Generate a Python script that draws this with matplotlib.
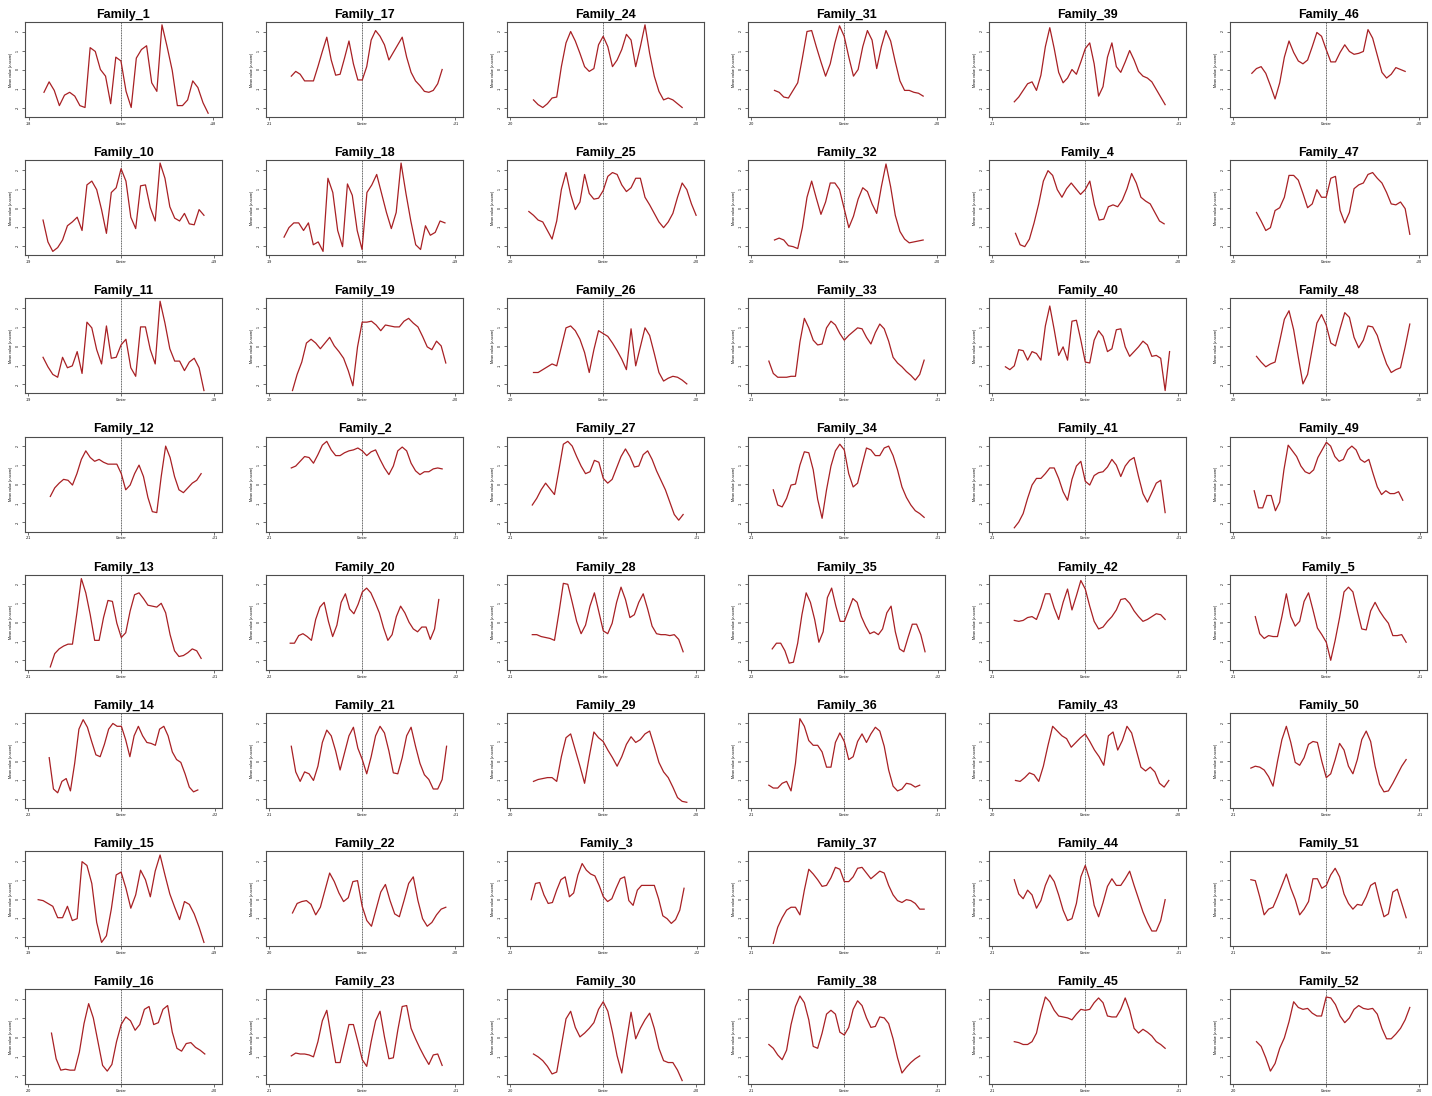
import matplotlib
matplotlib.use("Agg")
import numpy as np
import matplotlib.pyplot as plt

plt.rcParams['font.family'] = ['Liberation Sans', 'DejaVu Sans']

# mean profile per family, in % of the panel's value range, one value per position
family_1 = [26, 37, 28, 12, 23, 26, 22, 12, 10, 73, 69, 50, 43, 14, 63, 59, 27, 10, 62, 71, 75, 36, 27, 97, 74, 49, 12, 12, 18, 38, 31, 15, 4]
family_17 = [43, 48, 45, 38, 38, 38, 53, 69, 84, 60, 44, 45, 62, 80, 56, 39, 39, 53, 81, 91, 85, 76, 60, 68, 76, 84, 63, 47, 38, 33, 27, 26, 28, 35, 50]
family_24 = [18, 13, 10, 14, 20, 21, 53, 78, 90, 80, 67, 53, 48, 51, 76, 85, 74, 53, 60, 71, 87, 81, 53, 74, 97, 67, 43, 27, 18, 20, 18, 14, 10]
family_31 = [28, 26, 21, 20, 28, 36, 62, 90, 91, 74, 58, 43, 56, 78, 96, 85, 63, 43, 50, 74, 91, 81, 51, 74, 91, 80, 58, 38, 28, 28, 26, 25, 22]
family_39 = [16, 21, 28, 35, 37, 28, 44, 74, 94, 72, 47, 36, 41, 50, 45, 58, 72, 78, 56, 22, 32, 63, 78, 53, 47, 58, 70, 60, 48, 43, 41, 37, 29, 21, 13]
family_46 = [46, 51, 53, 46, 33, 19, 36, 63, 80, 68, 59, 56, 60, 74, 89, 85, 71, 58, 58, 68, 76, 69, 66, 67, 69, 92, 83, 65, 47, 41, 45, 52, 50, 48]

family_10 = [37, 14, 4, 8, 16, 31, 35, 40, 26, 74, 78, 69, 48, 23, 66, 71, 91, 78, 40, 28, 73, 74, 50, 36, 97, 81, 51, 39, 36, 44, 33, 32, 48, 42]
family_18 = [19, 29, 34, 34, 26, 34, 11, 14, 4, 81, 66, 26, 9, 75, 63, 26, 6, 66, 74, 85, 65, 45, 28, 45, 97, 65, 36, 11, 6, 31, 21, 24, 36, 34]
family_25 = [46, 42, 37, 35, 26, 17, 36, 69, 87, 64, 48, 56, 85, 65, 59, 60, 68, 83, 87, 85, 74, 67, 71, 81, 81, 61, 53, 44, 35, 29, 35, 44, 61, 76, 69, 54, 42]
family_32 = [16, 18, 16, 10, 9, 7, 29, 61, 78, 60, 43, 56, 76, 76, 69, 49, 29, 41, 59, 71, 67, 54, 44, 72, 96, 72, 42, 25, 17, 13, 14, 15, 16]
family_4 = [23, 11, 9, 17, 34, 54, 78, 89, 84, 69, 61, 70, 76, 70, 64, 69, 78, 53, 37, 38, 51, 53, 51, 58, 70, 86, 76, 61, 57, 54, 45, 36, 33]
family_47 = [45, 36, 26, 29, 47, 50, 61, 84, 84, 79, 65, 50, 54, 69, 61, 61, 81, 83, 47, 34, 45, 70, 74, 76, 85, 87, 81, 76, 66, 54, 53, 56, 49, 22]

family_11 = [38, 28, 20, 17, 38, 27, 29, 44, 21, 75, 69, 46, 31, 71, 37, 38, 51, 57, 27, 18, 70, 70, 46, 31, 97, 74, 47, 34, 34, 24, 33, 37, 27, 3]
family_19 = [3, 20, 33, 53, 57, 53, 47, 53, 59, 50, 44, 37, 24, 8, 49, 75, 75, 76, 72, 66, 72, 71, 70, 70, 76, 79, 74, 70, 60, 49, 46, 55, 50, 32]
family_26 = [22, 22, 25, 28, 31, 29, 49, 69, 71, 66, 57, 43, 22, 46, 66, 63, 60, 53, 45, 36, 25, 68, 29, 49, 69, 61, 42, 22, 13, 16, 18, 17, 14, 10]
family_33 = [34, 21, 17, 17, 17, 18, 18, 54, 79, 69, 56, 51, 52, 69, 76, 72, 63, 56, 61, 65, 69, 68, 59, 52, 64, 73, 68, 55, 38, 32, 28, 23, 19, 14, 20, 35]
family_40 = [28, 25, 29, 46, 45, 35, 44, 42, 35, 71, 92, 67, 40, 49, 35, 76, 77, 56, 33, 32, 56, 66, 60, 44, 47, 67, 68, 49, 39, 44, 49, 55, 51, 39, 40, 37, 3, 44]
family_48 = [39, 33, 28, 31, 33, 55, 78, 87, 67, 38, 10, 20, 47, 74, 83, 72, 53, 50, 68, 85, 80, 59, 48, 56, 71, 70, 61, 45, 31, 22, 25, 27, 49, 73]

family_12 = [37, 46, 51, 55, 54, 49, 61, 76, 85, 78, 74, 76, 73, 71, 71, 71, 61, 44, 49, 61, 70, 58, 36, 21, 20, 58, 90, 78, 58, 44, 41, 46, 51, 54, 61]
family_2 = [67, 69, 74, 79, 78, 72, 81, 91, 95, 86, 80, 80, 83, 85, 86, 88, 85, 80, 84, 86, 76, 67, 60, 69, 85, 89, 85, 72, 64, 60, 63, 63, 66, 67, 66]
family_27 = [28, 35, 44, 51, 45, 39, 65, 92, 95, 90, 79, 69, 61, 63, 75, 73, 56, 51, 55, 67, 79, 87, 79, 68, 69, 81, 85, 76, 64, 54, 44, 31, 18, 12, 18]
family_34 = [44, 28, 26, 35, 49, 50, 70, 84, 83, 65, 34, 14, 44, 69, 85, 92, 86, 61, 47, 51, 70, 88, 86, 80, 80, 88, 90, 80, 65, 47, 36, 28, 22, 19, 15]
family_41 = [4, 10, 19, 35, 49, 56, 56, 61, 67, 67, 56, 42, 33, 55, 69, 74, 53, 49, 59, 62, 63, 68, 76, 70, 58, 69, 75, 78, 58, 40, 31, 41, 51, 54, 20]
family_49 = [43, 25, 25, 38, 38, 22, 31, 65, 91, 85, 79, 69, 63, 61, 65, 78, 86, 94, 90, 79, 74, 76, 86, 90, 86, 76, 73, 76, 61, 47, 39, 43, 40, 40, 42, 33]

family_13 = [3, 17, 22, 25, 27, 27, 60, 96, 81, 58, 31, 31, 55, 73, 72, 49, 34, 39, 62, 79, 81, 75, 68, 67, 66, 70, 60, 37, 20, 14, 15, 18, 22, 20, 12]
family_20 = [28, 28, 36, 38, 35, 31, 53, 66, 71, 51, 35, 47, 71, 80, 64, 59, 69, 82, 86, 81, 71, 60, 44, 31, 37, 56, 67, 60, 50, 43, 40, 45, 45, 32, 43, 74]
family_28 = [37, 37, 35, 34, 33, 31, 60, 91, 90, 71, 51, 38, 47, 67, 81, 61, 41, 38, 49, 71, 87, 74, 55, 58, 71, 80, 64, 46, 38, 37, 37, 36, 37, 32, 19]
family_35 = [22, 28, 28, 20, 7, 8, 28, 58, 81, 71, 53, 29, 40, 76, 86, 67, 51, 51, 63, 75, 71, 56, 46, 38, 40, 37, 43, 60, 67, 40, 22, 19, 34, 48, 48, 37, 19]
family_42 = [52, 51, 52, 55, 56, 53, 65, 80, 80, 65, 53, 71, 85, 63, 78, 94, 85, 67, 51, 43, 45, 51, 56, 63, 74, 75, 70, 62, 56, 51, 53, 56, 59, 58, 53]
family_5 = [56, 38, 33, 36, 35, 35, 56, 80, 56, 46, 51, 72, 81, 63, 44, 37, 29, 10, 31, 55, 82, 87, 82, 62, 43, 42, 62, 71, 62, 55, 49, 36, 36, 37, 29]

family_14 = [53, 20, 16, 28, 31, 18, 47, 83, 93, 85, 70, 56, 54, 67, 83, 89, 86, 86, 72, 54, 76, 86, 76, 69, 68, 66, 83, 86, 76, 59, 51, 48, 36, 22, 17, 19]
family_21 = [65, 38, 28, 38, 36, 29, 44, 69, 82, 76, 60, 40, 58, 76, 85, 63, 51, 36, 54, 76, 86, 79, 60, 37, 36, 53, 76, 85, 65, 47, 35, 30, 20, 20, 30, 65]
family_29 = [28, 30, 31, 32, 32, 28, 54, 74, 78, 61, 44, 26, 54, 80, 74, 70, 61, 53, 44, 54, 67, 75, 69, 72, 78, 81, 65, 48, 38, 32, 22, 11, 7, 6]
family_36 = [24, 21, 21, 26, 28, 18, 47, 94, 86, 71, 66, 66, 59, 43, 43, 69, 79, 70, 51, 54, 70, 78, 69, 78, 85, 81, 65, 40, 23, 18, 20, 26, 25, 22, 24]
family_43 = [29, 28, 32, 37, 35, 28, 44, 66, 86, 81, 76, 73, 64, 69, 74, 78, 70, 61, 54, 45, 76, 80, 61, 71, 86, 79, 61, 43, 39, 43, 38, 26, 22, 29]
family_50 = [42, 44, 43, 40, 33, 23, 49, 72, 86, 69, 48, 45, 53, 67, 70, 69, 49, 32, 36, 51, 68, 61, 44, 36, 51, 72, 81, 70, 44, 25, 17, 18, 26, 35, 44, 51]

family_15 = [49, 48, 45, 42, 30, 30, 42, 27, 29, 89, 85, 66, 25, 4, 11, 39, 75, 78, 61, 40, 54, 80, 70, 52, 79, 96, 75, 55, 41, 28, 47, 44, 34, 20, 4]
family_22 = [35, 45, 47, 48, 44, 33, 41, 59, 77, 68, 56, 47, 51, 68, 69, 42, 27, 21, 39, 57, 65, 48, 34, 31, 48, 66, 73, 48, 29, 21, 25, 33, 39, 41]
family_3 = [49, 66, 67, 54, 45, 46, 59, 70, 73, 52, 56, 75, 87, 80, 76, 74, 64, 52, 47, 50, 61, 71, 73, 48, 43, 59, 64, 64, 64, 64, 50, 32, 29, 24, 28, 38, 61]
family_37 = [3, 20, 30, 38, 41, 41, 33, 59, 81, 76, 70, 63, 64, 72, 83, 81, 68, 68, 73, 82, 83, 77, 71, 75, 79, 77, 64, 54, 48, 46, 49, 48, 45, 39, 39]
family_44 = [70, 55, 50, 59, 54, 40, 48, 64, 75, 68, 54, 38, 27, 29, 45, 73, 85, 70, 43, 31, 46, 63, 71, 64, 64, 71, 79, 64, 50, 36, 25, 16, 16, 27, 49]
family_51 = [70, 69, 52, 33, 39, 41, 52, 64, 76, 61, 49, 33, 39, 47, 71, 71, 61, 64, 75, 82, 73, 55, 45, 39, 44, 43, 52, 64, 67, 48, 31, 34, 57, 60, 45, 30]

family_16 = [54, 27, 15, 16, 15, 15, 34, 64, 85, 70, 45, 20, 14, 21, 45, 63, 71, 67, 57, 63, 79, 82, 63, 65, 79, 83, 55, 38, 35, 43, 44, 39, 36, 32]
family_23 = [30, 33, 32, 32, 31, 29, 45, 67, 78, 50, 23, 23, 43, 63, 63, 45, 26, 19, 45, 67, 77, 50, 27, 28, 57, 82, 83, 59, 48, 38, 29, 21, 31, 32, 20]
family_30 = [32, 29, 25, 19, 11, 13, 41, 69, 77, 60, 50, 54, 59, 65, 79, 87, 77, 55, 30, 12, 45, 76, 48, 59, 68, 75, 59, 38, 25, 23, 23, 15, 4]
family_38 = [42, 38, 31, 26, 36, 63, 82, 93, 86, 68, 40, 38, 54, 74, 78, 74, 55, 52, 60, 79, 88, 83, 70, 60, 61, 71, 70, 64, 48, 28, 12, 18, 23, 27, 30]
family_45 = [45, 44, 42, 42, 45, 54, 75, 92, 87, 78, 72, 71, 70, 68, 74, 79, 78, 79, 86, 91, 86, 72, 71, 71, 79, 91, 78, 59, 54, 58, 55, 51, 45, 42, 38]
family_52 = [45, 40, 28, 14, 22, 38, 49, 66, 87, 81, 79, 80, 75, 72, 72, 92, 91, 84, 72, 65, 70, 79, 83, 80, 79, 80, 74, 59, 48, 48, 53, 59, 68, 81]

# panel order (row by row)
panel_ids = [1, 17, 24, 31, 39, 46,
             10, 18, 25, 32, 4, 47,
             11, 19, 26, 33, 40, 48,
             12, 2, 27, 34, 41, 49,
             13, 20, 28, 35, 42, 5,
             14, 21, 29, 36, 43, 50,
             15, 22, 3, 37, 44, 51,
             16, 23, 30, 38, 45, 52]
# window half-width (positions) shown as -N / +N tick
half_width = [18, 21, 20, 20, 21, 20,
              19, 19, 20, 20, 20, 20,
              19, 20, 20, 21, 21, 20,
              21, 21, 21, 21, 21, 22,
              21, 22, 21, 22, 21, 21,
              22, 21, 20, 21, 20, 21,
              19, 20, 22, 21, 21, 21,
              20, 21, 20, 21, 21, 20]
# position of the first value of each profile
first_pos = [-15, -16, -15, -15, -16, -16,
             -16, -16, -16, -15, -15, -15,
             -16, -15, -15, -17, -18, -15,
             -16, -16, -16, -16, -16, -17,
             -16, -17, -16, -17, -16, -16,
             -17, -16, -15, -17, -15, -17,
             -17, -15, -17, -16, -16, -17,
             -15, -16, -15, -17, -16, -15]

profiles = {int(k.split('_')[1]): v for k, v in globals().items()
            if k.startswith('family_')}

ytick_vals = [10, 30, 50, 70, 90]
ytick_text = ['-2', '-1', '0', '1', '2']

fig = plt.figure(figsize=(14.32, 10.96), dpi=100)
W, H = 1432.0, 1096.0

for i, fid in enumerate(panel_ids):
    r, c = divmod(i, 6)
    left = (25 + 241 * c) / W
    top = 22 + 138.2 * r
    ax = fig.add_axes([left, 1 - (top + 95) / H, 197 / W, 95 / H])
    ys = profiles[fid]
    xs = np.arange(len(ys)) + first_pos[i]
    n = half_width[i]
    ax.axvline(0, color='0.25', lw=0.6, ls=(0, (1.2, 0.8)), zorder=1)
    ax.plot(xs, ys, color='#a82024', lw=0.9, zorder=2)
    ax.set_xlim(-n - 0.7, n + 1.7)
    ax.set_ylim(0, 100)
    ax.set_xticks([-n, 0, n])
    ax.set_xticklabels([f'-{n}', 'Center', f'+{n}'])
    ax.set_yticks(ytick_vals)
    ax.set_yticklabels(ytick_text, rotation=90, va='center')
    ax.tick_params(labelsize=2.6, length=2, width=0.4, pad=1.5)
    ax.set_ylabel('Mean value (z-score)', fontsize=2.6, labelpad=2)
    for s in ax.spines.values():
        s.set_color('0.3')
        s.set_linewidth(0.8)
    ax.set_title(f'Family_{fid}', fontsize=9, fontweight='bold', pad=3)

fig.savefig('out.png', dpi=100)
